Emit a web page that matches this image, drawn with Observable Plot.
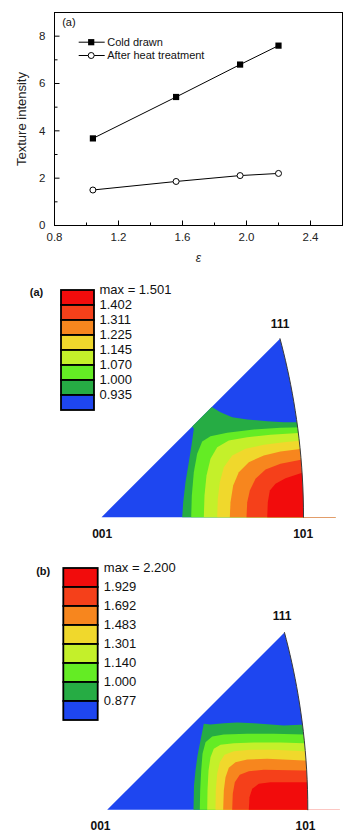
<!DOCTYPE html>
<html><head><meta charset="utf-8">
<script src="https://cdn.jsdelivr.net/npm/d3@7"></script>
<script src="https://cdn.jsdelivr.net/npm/@observablehq/plot@0.6"></script>
<style>
body{margin:0;background:#fff;width:359px;overflow:hidden;}
.panel{position:relative;width:359px;}
.panel svg{display:block;}
.legend{position:absolute;left:0;top:0;}
</style></head><body>
<div id="top" class="panel"></div>
<div id="pa" class="panel"></div>
<div id="pb" class="panel"></div>
<script>
const FONT = "'Liberation Sans', Arial, Helvetica, sans-serif";

// ---- line chart data ----
const epsilon = [1.04, 1.56, 1.96, 2.20];
const coldDrawn = [3.68, 5.43, 6.80, 7.60];
const afterHeat = [1.50, 1.86, 2.11, 2.20];
const xTickLabels = [0.8, 1.2, 1.6, 2.0, 2.4];
const xMinor = [1.0, 1.4, 1.8, 2.2];
const yTickLabels = [0, 2, 4, 6, 8];
const yMinor = [1, 3, 5, 7];
const seriesNames = ["Cold drawn", "After heat treatment"];

// ---- inverse pole figure legends ----
const maxA = 1.501;
const levelsA = [1.402, 1.311, 1.225, 1.145, 1.070, 1.000, 0.935];
const maxB = 2.200;
const levelsB = [1.929, 1.692, 1.483, 1.301, 1.140, 1.000, 0.877];
const bandColors = ["#f20c0c", "#f5401a", "#f7861e", "#f0d82c", "#c4f02a", "#64ec24", "#26ac44", "#1e46f0"];

// ---- contour boundaries (stereographic X, Y), one per level ----
const contourA_1402 = [[0.3398,0],[0.3410,0.0308],[0.3451,0.0547],[0.3568,0.0685],[0.3773,0.0800],[0.4115,0.0911]];
const contourA_1311 = [[0.2973,0],[0.2988,0.0308],[0.3041,0.0547],[0.3158,0.0787],[0.3363,0.0978],[0.3670,0.1095],[0.4115,0.1183]];
const contourA_1225 = [[0.2631,0],[0.2645,0.0308],[0.2700,0.0650],[0.2815,0.0923],[0.3020,0.1128],[0.3328,0.1265],[0.3670,0.1347],[0.4115,0.1403]];
const contourA_1145 = [[0.2372,0],[0.2385,0.0377],[0.2426,0.0718],[0.2508,0.1025],[0.2680,0.1265],[0.2953,0.1402],[0.3328,0.1485],[0.3738,0.1538],[0.4115,0.1573]];
const contourA_1070 = [[0.2098,0],[0.2112,0.0445],[0.2153,0.0855],[0.2235,0.1197],[0.2372,0.1435],[0.2610,0.1573],[0.2987,0.1640],[0.3465,0.1690],[0.4115,0.1731]];
const contourA_1000 = [[0.1839,0],[0.1852,0.0445],[0.1893,0.0923],[0.1962,0.1300],[0.2065,0.1552],[0.2235,0.1661],[0.2577,0.1731],[0.3123,0.1798],[0.3670,0.1833],[0.4115,0.1845]];
const contourA_0935 = [[0.1655,0],[0.1675,0.0308],[0.1722,0.0718],[0.1790,0.1128],[0.1845,0.1470],[0.1893,0.1813],[0.186,0.186],[0.226,0.226],[0.2440,0.2153],[0.2680,0.2050],[0.2988,0.2003],[0.3398,0.1968],[0.3738,0.1948],[0.4115,0.1948]];

const contourB_1929 = [[0.2924,0],[0.2938,0.0260],[0.2994,0.0434],[0.3130,0.0537],[0.3372,0.0570],[0.4059,0.0570]];
const contourB_1692 = [[0.2581,0],[0.2593,0.0330],[0.2635,0.0570],[0.2738,0.0723],[0.2924,0.0797],[0.3234,0.0826],[0.4059,0.0811]];
const contourB_1483 = [[0.2395,0],[0.2408,0.0399],[0.2443,0.0673],[0.2511,0.0867],[0.2649,0.0983],[0.2891,0.1039],[0.3304,0.1053],[0.4059,0.1018]];
const contourB_1301 = [[0.2236,0],[0.2242,0.0399],[0.2271,0.0743],[0.2325,0.0983],[0.2422,0.1136],[0.2614,0.1210],[0.2959,0.1239],[0.3440,0.1239],[0.4059,0.1210]];
const contourB_1140 = [[0.2065,0],[0.2071,0.0399],[0.2092,0.0812],[0.2133,0.1086],[0.2201,0.1260],[0.2339,0.1342],[0.2614,0.1375],[0.3027,0.1390],[0.3578,0.1390],[0.4059,0.1375]];
const contourB_1000 = [[0.1912,0],[0.1920,0.0399],[0.1941,0.0812],[0.1968,0.1156],[0.2030,0.1396],[0.2168,0.1514],[0.2408,0.1555],[0.2891,0.1569],[0.3440,0.1569],[0.4059,0.1555]];
const contourB_0877 = [[0.1782,0],[0.1792,0.0502],[0.1823,0.0811],[0.1865,0.1121],[0.1926,0.1431],[0.1995,0.1776],[0.2133,0.1761],[0.2408,0.1788],[0.2684,0.1803],[0.3027,0.1788],[0.3372,0.1761],[0.3646,0.1741],[0.3991,0.1755]];

const contoursA = [contourA_1402, contourA_1311, contourA_1225, contourA_1145, contourA_1070, contourA_1000, contourA_0935];
const contoursB = [contourB_1929, contourB_1692, contourB_1483, contourB_1301, contourB_1140, contourB_1000, contourB_0877];

// ---------------- line chart ----------------
const rows = epsilon.map((e, i) => ({e, cold: coldDrawn[i], heat: afterHeat[i]}));
const sym = (x1, y1, x2, y2) => ({draw(ctx) { ctx.moveTo(x1, y1); ctx.lineTo(x2, y2); }});
const tickUpMajor = sym(0, 0, 0, -5), tickUpMinor = sym(0, 0, 0, -3);
const tickInMajor = sym(0, 0, 5, 0), tickInMinor = sym(0, 0, 3, 0);
const legendSeg = sym(-13, 0, 13, 0);

const lineChart = Plot.plot({
  width: 359, height: 270,
  marginTop: 12, marginBottom: 45, marginLeft: 54, marginRight: 17,
  style: {fontFamily: FONT, fontSize: "11.5px", background: "white", color: "black"},
  x: {domain: [0.8, 2.6], axis: null},
  y: {domain: [0, 9], axis: null},
  marks: [
    Plot.frame({stroke: "black", strokeWidth: 1}),
    Plot.axisX(xTickLabels, {tickSize: 0, tickPadding: 7, tickFormat: d3.format(".1f"), fontSize: 11.5, fill: "#222", label: null}),
    Plot.axisY(yTickLabels, {tickSize: 0, tickPadding: 9, fontSize: 11.5, fill: "#222", label: null}),
    Plot.dot(xTickLabels, {x: d => d, frameAnchor: "bottom", symbol: tickUpMajor, stroke: "black", fill: "none", strokeWidth: 1}),
    Plot.dot(xMinor, {x: d => d, frameAnchor: "bottom", symbol: tickUpMinor, stroke: "black", fill: "none", strokeWidth: 1}),
    Plot.dot(yTickLabels, {y: d => d, frameAnchor: "left", symbol: tickInMajor, stroke: "black", fill: "none", strokeWidth: 1}),
    Plot.dot(yMinor, {y: d => d, frameAnchor: "left", symbol: tickInMinor, stroke: "black", fill: "none", strokeWidth: 1}),
    Plot.line(rows, {x: "e", y: "cold", stroke: "black", strokeWidth: 1}),
    Plot.line(rows, {x: "e", y: "heat", stroke: "black", strokeWidth: 1}),
    Plot.dot(rows, {x: "e", y: "cold", symbol: "square", fill: "black", stroke: "none", r: 3.5}),
    Plot.dot(rows, {x: "e", y: "heat", symbol: "circle", fill: "white", stroke: "black", strokeWidth: 1, r: 3}),
    // legend
    Plot.dot([0], {frameAnchor: "top-left", dx: 37.2, dy: 29.7, symbol: legendSeg, stroke: "black", fill: "none", strokeWidth: 1}),
    Plot.dot([0], {frameAnchor: "top-left", dx: 37.2, dy: 43, symbol: legendSeg, stroke: "black", fill: "none", strokeWidth: 1}),
    Plot.dot([0], {frameAnchor: "top-left", dx: 36.7, dy: 29.7, symbol: "square", fill: "black", stroke: "none", r: 3.5}),
    Plot.dot([0], {frameAnchor: "top-left", dx: 36.7, dy: 43, symbol: "circle", fill: "white", stroke: "black", strokeWidth: 1, r: 3}),
    Plot.text([seriesNames[0]], {frameAnchor: "top-left", dx: 52.7, dy: 29.7, text: d => d, textAnchor: "start", lineAnchor: "middle", fontSize: 11, fill: "#111"}),
    Plot.text([seriesNames[1]], {frameAnchor: "top-left", dx: 52.7, dy: 43, text: d => d, textAnchor: "start", lineAnchor: "middle", fontSize: 11, fill: "#111"}),
    Plot.text(["(a)"], {frameAnchor: "top-left", dx: 7.7, dy: 9.7, text: d => d, textAnchor: "start", lineAnchor: "middle", fontSize: 11, fill: "#111"}),
    // axis titles
    Plot.text(["Texture intensity"], {frameAnchor: "left", dx: -32.3, rotate: -90, text: d => d, textAnchor: "middle", lineAnchor: "middle", fontSize: 13, fill: "#222"}),
    Plot.text(["ε"], {frameAnchor: "bottom", dy: 33, text: d => d, lineAnchor: "middle", fontSize: 12, fontStyle: "italic", fill: "#222"})
  ]
});
document.getElementById("top").appendChild(lineChart);

// ---------------- inverse pole figures ----------------
// boundary of the standard stereographic triangle: arc [101]->[111] (directions (1,t,1))
const arc = d3.range(0, 1.0001, 0.05).map(t => { const z = 1 / Math.sqrt(2 + t * t); return [z / (1 + z), t * z / (1 + z)]; });
const c111 = arc[arc.length - 1];
const corners = [
  {name: "001", X: 0, Y: 0},
  {name: "101", X: arc[0][0], Y: 0},
  {name: "111", X: c111[0], Y: c111[1]}
];
const FAR = 0.48;
const closePoly = c => [...c, [FAR, c[c.length - 1][1]], [FAR, 0]];
const baseTri = [[0, 0], c111, [FAR, c111[1]], [FAR, 0]];
const mask = [...arc, [c111[0], c111[1] + 0.01], [FAR + 0.02, c111[1] + 0.01], [FAR + 0.02, 0]];

function poleFigure(el, cfg) {
  const {width, height, ox, oy, s, contours, levels, max, tag, tagX, tagY, cornerShift, legend} = cfg;
  const px = d => d[0], py = d => d[1];
  const marks = [
    Plot.line(baseTri, {x: px, y: py, fill: bandColors[7], stroke: "none"}),
    ...contours.map((c, i) => ({c, i})).reverse().map(({c, i}) =>
      Plot.line(closePoly(c), {x: px, y: py, fill: bandColors[i], stroke: "none"})),
    Plot.line(mask, {x: px, y: py, fill: "white", stroke: "none"}),
    Plot.line(arc, {x: px, y: py, stroke: "#3a3a3a", strokeWidth: 1, fill: "none"}),
    ...corners.map(c => Plot.text([c], {x: "X", y: "Y", text: "name", dx: cornerShift[c.name][0], dy: cornerShift[c.name][1],
      fontSize: 12, fontWeight: "bold", fill: "#111", lineAnchor: "middle"})),
    Plot.text([tag], {frameAnchor: "top-left", dx: tagX, dy: tagY, text: d => d, textAnchor: "middle", lineAnchor: "middle", fontSize: 11, fontWeight: "bold", fill: "#111"})
  ];
  const fig = Plot.plot({
    width, height, margin: 0,
    style: {fontFamily: FONT, background: "white", color: "black"},
    x: {domain: [-ox / s, (width - ox) / s], axis: null},
    y: {domain: [(oy - height) / s, oy / s], axis: null},
    marks
  });
  el.style.height = height + "px";
  el.appendChild(fig);

  const labels = ["max = " + max.toFixed(3), ...levels.map(v => v.toFixed(3))];
  const items = labels.map((label, i) => ({label, color: bandColors[i]}));
  const {W, H, left, right, topY, bottomY, dx} = legend;
  const bw = (bottomY - topY) / items.length;
  const leg = Plot.plot({
    width: W, height: H,
    marginLeft: left, marginRight: W - right, marginTop: topY, marginBottom: H - bottomY,
    style: {fontFamily: FONT, background: "none", color: "black", overflow: "visible"},
    x: {domain: [0, 1], axis: null},
    y: {domain: labels, axis: null, padding: 0},
    marks: [
      Plot.barX(items, {y: "label", x1: 0, x2: 1, fill: "color", stroke: "#000", strokeWidth: 1.8}),
      Plot.text(items, {y: "label", text: "label", frameAnchor: "right", textAnchor: "start", lineAnchor: "middle",
        dx, dy: -bw / 2, fontSize: 13, fill: "#111"})
    ]
  });
  leg.classList.add("legend");
  leg.style.position = "absolute"; leg.style.left = "0px"; leg.style.top = "0px";
  el.appendChild(leg);
}

poleFigure(document.getElementById("pa"), {
  width: 359, height: 280, ox: 101, oy: 246.7, s: 487.7,
  contours: contoursA, levels: levelsA, max: maxA,
  tag: "(a)", tagX: 36, tagY: 21.7,
  cornerShift: {"001": [0.7, 16.6], "101": [-0.3, 16.6], "111": [0, -14.3]},
  legend: {W: 180, H: 160, left: 61, right: 94, topY: 15.7, bottomY: 143.3, dx: 5}
});
poleFigure(document.getElementById("pb"), {
  width: 359, height: 284, ox: 106.7, oy: 259.3, s: 484.3,
  contours: contoursB, levels: levelsB, max: maxB,
  tag: "(b)", tagX: 42.7, tagY: 20.7,
  cornerShift: {"001": [-6.7, 16.7], "101": [-2.3, 16.7], "111": [-2.3, -16]},
  legend: {W: 180, H: 190, left: 63.3, right: 97.7, topY: 16.7, bottomY: 171.7, dx: 5.6}
});
</script>
</body></html>
